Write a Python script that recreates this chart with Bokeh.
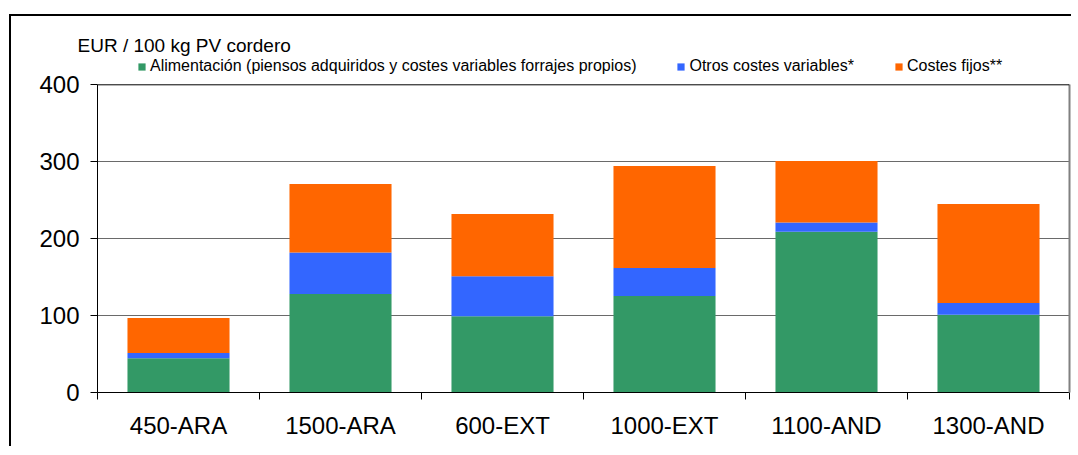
from bokeh.plotting import figure
from bokeh.models import ColumnDataSource, Range1d, LinearAxis, FixedTicker, Span
from bokeh.embed import file_html
from bokeh.resources import INLINE

cats = ["450-ARA", "1500-ARA", "600-EXT", "1000-EXT", "1100-AND", "1300-AND"]
alimentacion = [44.5, 128, 99, 125.5, 209, 101]
otros = [7, 54, 52, 36.5, 12, 15.5]
fijos = [45.5, 89, 81, 132.5, 80, 128.5]
series_names = ["Alimentación (piensos adquiridos y costes variables forrajes propios)",
                "Otros costes variables*", "Costes fijos**"]
colors = ["#339966", "#3366FF", "#FF6600"]
yticks = [0, 100, 200, 300, 400]
y_title = "EUR / 100 kg PV cordero"

FONT = "Liberation Sans"
Y_MAX = 400          # top of the value axis
Y_VIEW = 435.5       # frame extends above the axis to hold the legend

n = len(cats)
centers = [i + 0.5 for i in range(n)]
source = ColumnDataSource(dict(x=centers, cats=cats, alim=alimentacion,
                               otros=otros, fijos=fijos))

p = figure(x_range=Range1d(0, n), y_range=Range1d(0, Y_VIEW), width=1062, height=432,
           output_backend="svg", toolbar_location=None, x_axis_location=None,
           min_border_left=86, min_border_right=4, min_border_top=41,
           min_border_bottom=56)
p.styles = {"border-top": "2px solid black", "border-left": "2px solid black",
            "margin-left": "9px", "margin-top": "14px"}
p.outline_line_color = None
p.background_fill_color = "white"
p.border_fill_color = "white"

p.vbar_stack(["alim", "otros", "fijos"], x="x", width=0.63, color=colors,
             line_color=None, source=source, legend_label=series_names)

# bottom axis: labels centred, ticks at category boundaries
xaxis = LinearAxis(ticker=FixedTicker(ticks=centers, minor_ticks=list(range(n + 1))),
                   major_label_overrides={c: lab for c, lab in zip(centers, cats)})
xaxis.major_tick_out = 0
xaxis.major_tick_in = 0
xaxis.minor_tick_out = 7
xaxis.minor_tick_in = 0
xaxis.minor_tick_line_color = "black"
xaxis.axis_line_color = "black"
xaxis.major_label_text_font = FONT
xaxis.major_label_text_font_size = "24px"
xaxis.major_label_text_color = "black"
xaxis.major_label_standoff = 12
p.add_layout(xaxis, "below")

# top border of the plot area
p.add_layout(Span(location=Y_MAX, dimension="width", line_color="black", line_width=1))

# right border of the plot area
right_axis = LinearAxis(ticker=FixedTicker(ticks=[]), bounds=(0, Y_MAX))
right_axis.axis_line_color = "#808080"
right_axis.axis_line_width = 2
right_axis.major_tick_out = 0
right_axis.minor_tick_out = 0
right_axis.major_label_text_font_size = "0px"
p.add_layout(right_axis, "right")

yaxis = p.yaxis[0]
yaxis.ticker = FixedTicker(ticks=yticks)
yaxis.bounds = (0, Y_MAX)
yaxis.major_tick_out = 7
yaxis.major_tick_in = 0
yaxis.minor_tick_out = 0
yaxis.minor_tick_in = 0
yaxis.axis_line_color = "black"
yaxis.major_tick_line_color = "black"
yaxis.major_label_text_font = FONT
yaxis.major_label_text_font_size = "24px"
yaxis.major_label_text_color = "black"
yaxis.major_label_standoff = 11

p.xgrid.grid_line_color = None
p.ygrid.ticker = FixedTicker(ticks=[t for t in yticks if 0 < t < Y_MAX])
p.ygrid.grid_line_color = "#6a6a6a"
p.ygrid.grid_line_width = 1

leg = p.legend[0]
leg.orientation = "horizontal"
leg.location = (40, 317)
leg.padding = 0
leg.margin = 0
leg.spacing = 40
leg.glyph_width = 9
leg.glyph_height = 9
leg.label_standoff = 4
leg.label_height = 16
leg.label_text_font = FONT
leg.label_text_font_size = "16px"
leg.label_text_color = "black"
leg.border_line_color = None
leg.background_fill_alpha = 0

p.title.text = y_title
p.title.align = "left"
p.title.vertical_align = "top"
p.title.offset = -20
p.title.standoff = 0
p.title.text_font = FONT
p.title.text_font_size = "19px"
p.title.text_font_style = "normal"
p.title.text_color = "black"

open("out.html", "w").write(file_html(p, INLINE))
